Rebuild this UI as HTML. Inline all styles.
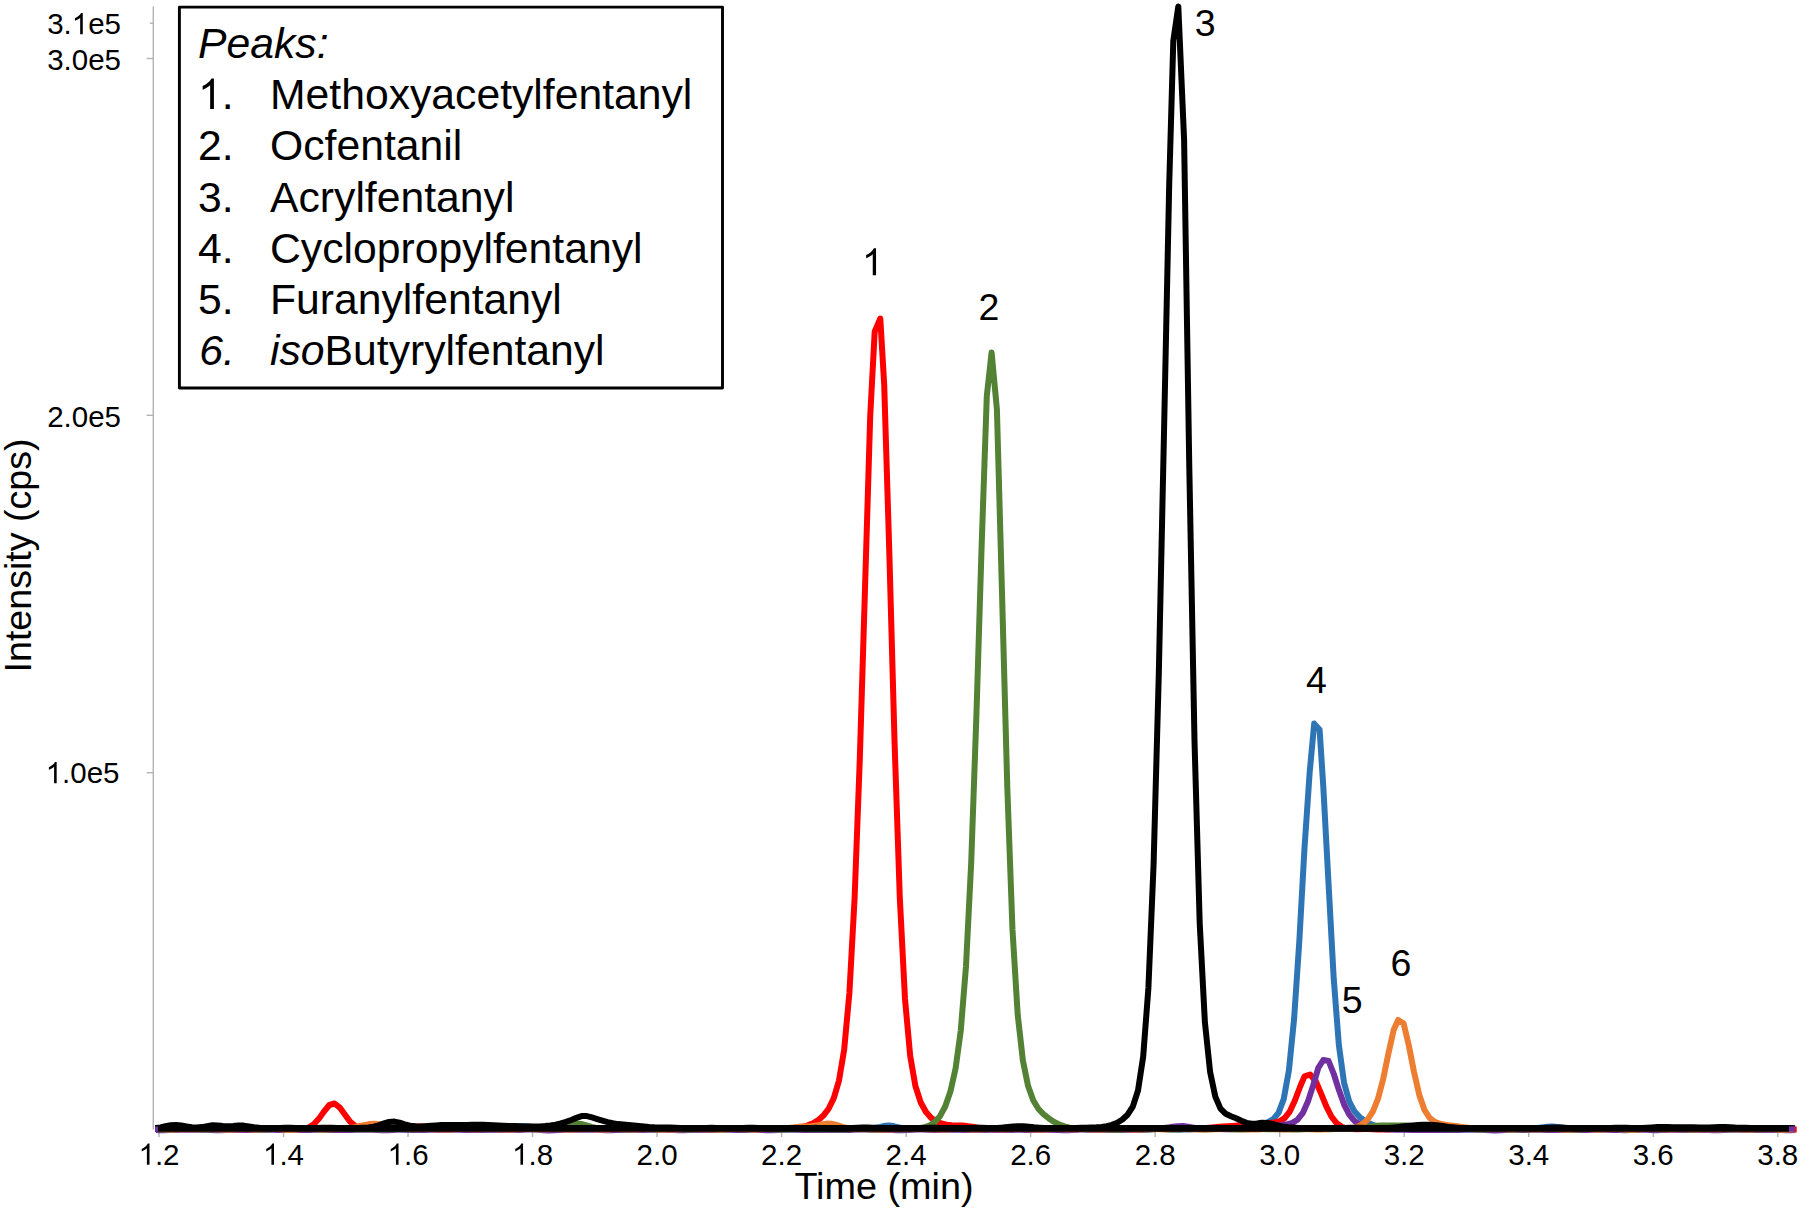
<!DOCTYPE html>
<html><head><meta charset="utf-8"><style>
html,body{margin:0;padding:0;background:#fff;overflow:hidden;}
svg{display:block;}
text{font-family:"Liberation Sans",sans-serif;fill:#000;}
</style></head><body>
<svg width="1800" height="1210" viewBox="0 0 1800 1210">
<rect width="1800" height="1210" fill="#fff"/>
<g stroke="#B3B3B3" stroke-width="1.4" fill="none">
<line x1="153.3" y1="6.5" x2="153.3" y2="1129.5"/>
<line x1="149.8" y1="23.25" x2="153.3" y2="23.25"/>
<line x1="146.6" y1="58.5" x2="153.3" y2="58.5"/>
<line x1="146.6" y1="415.3" x2="153.3" y2="415.3"/>
<line x1="146.6" y1="772.7" x2="153.3" y2="772.7"/>
<line x1="159.00" y1="1132" x2="159.00" y2="1137"/><line x1="283.52" y1="1132" x2="283.52" y2="1137"/><line x1="408.04" y1="1132" x2="408.04" y2="1137"/><line x1="532.56" y1="1132" x2="532.56" y2="1137"/><line x1="657.08" y1="1132" x2="657.08" y2="1137"/><line x1="781.60" y1="1132" x2="781.60" y2="1137"/><line x1="906.12" y1="1132" x2="906.12" y2="1137"/><line x1="1030.64" y1="1132" x2="1030.64" y2="1137"/><line x1="1155.16" y1="1132" x2="1155.16" y2="1137"/><line x1="1279.68" y1="1132" x2="1279.68" y2="1137"/><line x1="1404.20" y1="1132" x2="1404.20" y2="1137"/><line x1="1528.72" y1="1132" x2="1528.72" y2="1137"/><line x1="1653.24" y1="1132" x2="1653.24" y2="1137"/><line x1="1777.76" y1="1132" x2="1777.76" y2="1137"/>
</g>
<g><text x="47.18" y="34.2" font-size="29.5">3.</text><path d="M763 0L583 0L583 1147Q518 1085 412 1023Q306 961 222 930L222 1104Q373 1175 486 1276Q599 1377 646 1472L763 1472Z" transform="translate(71.78,34.2) scale(0.014404,-0.014404)"/><text x="88.19" y="34.2" font-size="29.5">e5</text><text x="47.18" y="69.5" font-size="29.5">3.0e5</text><text x="47.18" y="426.5" font-size="29.5">2.0e5</text><path d="M763 0L583 0L583 1147Q518 1085 412 1023Q306 961 222 930L222 1104Q373 1175 486 1276Q599 1377 646 1472L763 1472Z" transform="translate(45.68,783.2) scale(0.014404,-0.014404)"/><text x="62.08" y="783.2" font-size="29.5">.0e5</text></g>
<g><path d="M763 0L583 0L583 1147Q518 1085 412 1023Q306 961 222 930L222 1104Q373 1175 486 1276Q599 1377 646 1472L763 1472Z" transform="translate(138.50,1164.8) scale(0.014404,-0.014404)"/><text x="154.90" y="1164.8" font-size="29.5">.2</text><path d="M763 0L583 0L583 1147Q518 1085 412 1023Q306 961 222 930L222 1104Q373 1175 486 1276Q599 1377 646 1472L763 1472Z" transform="translate(263.02,1164.8) scale(0.014404,-0.014404)"/><text x="279.42" y="1164.8" font-size="29.5">.4</text><path d="M763 0L583 0L583 1147Q518 1085 412 1023Q306 961 222 930L222 1104Q373 1175 486 1276Q599 1377 646 1472L763 1472Z" transform="translate(387.54,1164.8) scale(0.014404,-0.014404)"/><text x="403.94" y="1164.8" font-size="29.5">.6</text><path d="M763 0L583 0L583 1147Q518 1085 412 1023Q306 961 222 930L222 1104Q373 1175 486 1276Q599 1377 646 1472L763 1472Z" transform="translate(512.06,1164.8) scale(0.014404,-0.014404)"/><text x="528.46" y="1164.8" font-size="29.5">.8</text><text x="636.58" y="1164.8" font-size="29.5">2.0</text><text x="761.10" y="1164.8" font-size="29.5">2.2</text><text x="885.62" y="1164.8" font-size="29.5">2.4</text><text x="1010.14" y="1164.8" font-size="29.5">2.6</text><text x="1134.66" y="1164.8" font-size="29.5">2.8</text><text x="1259.18" y="1164.8" font-size="29.5">3.0</text><text x="1383.70" y="1164.8" font-size="29.5">3.2</text><text x="1508.22" y="1164.8" font-size="29.5">3.4</text><text x="1632.74" y="1164.8" font-size="29.5">3.6</text><text x="1757.26" y="1164.8" font-size="29.5">3.8</text></g>
<text x="884" y="1198.7" font-size="37.8" text-anchor="middle">Time (min)</text>
<text transform="translate(31.2,555.5) rotate(-90)" font-size="37.6" text-anchor="middle">Intensity (cps)</text>
<g fill="none" stroke-width="6" stroke-linejoin="round" stroke-linecap="butt">
<path stroke="#2E75B6" d="M156.0,1129.0 L160.5,1129.1 L165.7,1129.3 L170.9,1129.3 L176.1,1129.3 L181.3,1129.3 L186.5,1129.4 L191.7,1129.4 L196.9,1129.5 L202.1,1129.4 L207.3,1129.2 L212.5,1129.0 L217.7,1128.9 L222.9,1128.9 L228.1,1129.0 L233.3,1129.0 L238.5,1129.0 L243.7,1129.2 L248.9,1129.4 L254.1,1129.5 L259.3,1129.6 L264.5,1129.5 L269.7,1129.3 L274.9,1129.2 L280.1,1129.2 L285.3,1129.1 L290.5,1129.1 L295.7,1129.0 L300.9,1128.9 L306.1,1128.9 L311.3,1129.1 L316.5,1129.2 L321.7,1129.3 L326.9,1129.3 L332.1,1129.4 L337.3,1129.5 L342.5,1129.6 L347.7,1129.5 L352.9,1129.3 L358.1,1129.1 L363.3,1128.9 L368.5,1128.8 L373.7,1128.9 L378.9,1128.9 L384.1,1129.0 L389.3,1129.1 L394.5,1129.3 L399.7,1129.5 L404.9,1129.7 L410.1,1129.6 L415.3,1129.4 L420.5,1129.3 L425.7,1129.1 L430.9,1129.1 L436.1,1129.0 L441.3,1128.9 L446.5,1128.9 L451.7,1128.9 L456.9,1129.0 L462.1,1129.2 L467.3,1129.3 L472.5,1129.4 L477.7,1129.4 L482.9,1129.4 L488.1,1129.5 L493.3,1129.5 L498.5,1129.2 L503.7,1128.7 L508.9,1127.9 L514.1,1127.0 L519.3,1126.2 L524.5,1126.0 L529.7,1126.5 L534.9,1127.5 L540.1,1128.5 L545.3,1129.1 L550.5,1129.5 L555.7,1129.5 L560.9,1129.4 L566.1,1129.2 L571.3,1129.0 L576.5,1129.0 L581.7,1129.1 L586.9,1129.1 L592.1,1129.1 L597.3,1129.1 L602.5,1129.1 L607.7,1129.2 L612.9,1129.3 L618.1,1129.3 L623.3,1129.2 L628.5,1129.2 L633.7,1129.2 L638.9,1129.3 L644.1,1129.3 L649.3,1129.2 L654.5,1129.1 L659.7,1129.0 L664.9,1129.1 L670.1,1129.2 L675.3,1129.2 L680.5,1129.2 L685.7,1129.2 L690.9,1129.2 L696.1,1129.3 L701.3,1129.3 L706.5,1129.3 L711.7,1129.2 L716.9,1129.1 L722.1,1129.1 L727.3,1129.2 L732.5,1129.3 L737.7,1129.3 L742.9,1129.2 L748.1,1129.1 L753.3,1129.1 L758.5,1129.1 L763.7,1129.1 L768.9,1129.1 L774.1,1129.1 L779.3,1129.1 L784.5,1129.3 L789.7,1129.4 L794.9,1129.4 L800.1,1129.3 L805.3,1129.2 L810.5,1129.1 L815.7,1129.1 L820.9,1129.2 L826.1,1129.2 L831.3,1129.1 L836.5,1129.1 L841.7,1129.1 L846.9,1129.2 L852.1,1129.3 L857.3,1129.2 L862.5,1129.1 L867.7,1128.8 L872.9,1128.3 L878.1,1127.3 L883.3,1126.1 L888.5,1125.5 L893.7,1126.1 L898.9,1127.3 L904.1,1128.4 L909.3,1128.9 L914.5,1129.1 L919.7,1129.1 L924.9,1129.1 L930.1,1129.2 L935.3,1129.3 L940.5,1129.4 L945.7,1129.3 L950.9,1129.2 L956.1,1129.1 L961.3,1129.2 L966.5,1129.3 L971.7,1129.3 L976.9,1129.3 L982.1,1129.2 L987.3,1129.1 L992.5,1129.1 L997.7,1129.2 L1002.9,1129.1 L1008.1,1129.0 L1013.3,1129.0 L1018.5,1129.1 L1023.7,1129.3 L1028.9,1129.5 L1034.1,1129.5 L1039.3,1129.4 L1044.5,1129.3 L1049.7,1129.2 L1054.9,1129.2 L1060.1,1129.1 L1065.3,1129.0 L1070.5,1128.9 L1075.7,1128.9 L1080.9,1129.1 L1086.1,1129.2 L1091.3,1129.4 L1096.5,1129.4 L1101.7,1129.3 L1106.9,1129.4 L1112.1,1129.4 L1117.3,1129.5 L1122.5,1129.4 L1127.7,1129.2 L1132.9,1129.0 L1138.1,1128.9 L1143.3,1128.9 L1148.5,1128.9 L1153.7,1129.0 L1158.9,1129.0 L1164.1,1129.1 L1169.3,1129.4 L1174.5,1129.6 L1179.7,1129.7 L1184.9,1129.6 L1190.1,1129.4 L1195.3,1129.1 L1200.5,1129.0 L1205.7,1128.8 L1210.9,1128.7 L1216.1,1128.5 L1221.3,1128.4 L1226.5,1128.3 L1231.7,1128.3 L1236.9,1128.1 L1242.1,1127.7 L1247.3,1127.0 L1252.5,1126.1 L1257.7,1125.2 L1262.9,1124.0 L1268.1,1122.2 L1273.3,1119.2 L1278.5,1112.9 L1283.7,1099.1 L1288.9,1070.5 L1294.1,1018.9 L1299.3,941.4 L1304.5,848.0 L1309.7,772.0 L1314.2,723.6 L1319.6,729.8 L1323.3,786.8 L1328.5,882.8 L1333.7,978.3 L1338.9,1045.4 L1344.1,1083.1 L1349.3,1101.8 L1354.5,1111.4 L1359.7,1117.1 L1364.9,1121.0 L1370.1,1123.8 L1375.3,1125.9 L1380.5,1127.4 L1385.7,1128.3 L1390.9,1128.9 L1396.1,1129.1 L1401.3,1129.1 L1406.5,1129.2 L1411.7,1129.3 L1416.9,1129.3 L1422.1,1129.2 L1427.3,1129.1 L1432.5,1128.9 L1437.7,1128.9 L1442.9,1129.0 L1448.1,1129.0 L1453.3,1129.1 L1458.5,1129.1 L1463.7,1129.2 L1468.9,1129.5 L1474.1,1129.6 L1479.3,1129.6 L1484.5,1129.4 L1489.7,1129.2 L1494.9,1129.1 L1500.1,1129.1 L1505.3,1129.0 L1510.5,1129.0 L1515.7,1128.9 L1520.9,1128.8 L1526.1,1128.8 L1531.3,1128.6 L1536.5,1128.2 L1541.7,1127.4 L1546.9,1126.8 L1552.1,1126.5 L1557.3,1126.9 L1562.5,1127.5 L1567.7,1128.2 L1572.9,1128.6 L1578.1,1128.7 L1583.3,1128.8 L1588.5,1128.9 L1593.7,1129.0 L1598.9,1129.0 L1604.1,1129.1 L1609.3,1129.2 L1614.5,1129.4 L1619.7,1129.6 L1624.9,1129.6 L1630.1,1129.5 L1635.3,1129.3 L1640.5,1129.1 L1645.7,1129.0 L1650.9,1129.0 L1656.1,1129.0 L1661.3,1129.0 L1666.5,1129.0 L1671.7,1129.1 L1676.9,1129.3 L1682.1,1129.4 L1687.3,1129.4 L1692.5,1129.4 L1697.7,1129.3 L1702.9,1129.3 L1708.1,1129.3 L1713.3,1129.3 L1718.5,1129.2 L1723.7,1129.0 L1728.9,1128.9 L1734.1,1129.0 L1739.3,1129.1 L1744.5,1129.2 L1749.7,1129.2 L1754.9,1129.2 L1760.1,1129.3 L1765.3,1129.4 L1770.5,1129.5 L1775.7,1129.4 L1780.9,1129.2 L1786.1,1129.0 L1791.3,1129.0 L1795.0,1129.0"/>
<path stroke="#FF0000" d="M156.0,1129.2 L157.8,1129.2 L163.0,1129.4 L168.2,1129.6 L173.4,1129.6 L178.6,1129.3 L183.8,1128.9 L189.0,1128.7 L194.2,1128.7 L199.4,1129.0 L204.6,1129.2 L209.8,1129.3 L215.0,1129.3 L220.2,1129.2 L225.4,1129.3 L230.6,1129.5 L235.8,1129.6 L241.0,1129.6 L246.2,1129.3 L251.4,1129.0 L256.6,1128.8 L261.8,1128.8 L267.0,1128.9 L272.2,1129.0 L277.4,1129.1 L282.6,1129.2 L287.8,1129.3 L293.0,1129.4 L298.2,1129.3 L303.4,1128.9 L308.6,1127.6 L313.8,1124.3 L319.0,1118.6 L324.2,1111.2 L329.4,1105.0 L334.6,1103.5 L339.8,1107.6 L345.0,1114.8 L350.2,1121.7 L355.4,1126.1 L360.6,1128.2 L365.8,1128.8 L371.0,1128.8 L376.2,1128.7 L381.4,1128.5 L386.6,1128.3 L391.8,1127.9 L397.0,1127.4 L402.2,1126.9 L407.4,1126.6 L412.6,1126.6 L417.8,1126.6 L423.0,1126.5 L428.2,1126.4 L433.4,1126.2 L438.6,1126.3 L443.8,1126.5 L449.0,1126.9 L454.2,1127.2 L459.4,1127.3 L464.6,1127.5 L469.8,1127.7 L475.0,1128.1 L480.2,1128.5 L485.4,1128.9 L490.6,1129.0 L495.8,1129.0 L501.0,1129.0 L506.2,1129.0 L511.4,1129.1 L516.6,1129.1 L521.8,1129.1 L527.0,1129.0 L532.2,1129.0 L537.4,1129.1 L542.6,1129.3 L547.8,1129.4 L553.0,1129.4 L558.2,1129.3 L563.4,1129.3 L568.6,1129.3 L573.8,1129.3 L579.0,1129.2 L584.2,1129.0 L589.4,1128.9 L594.6,1128.9 L599.8,1129.1 L605.0,1129.3 L610.2,1129.4 L615.4,1129.4 L620.6,1129.3 L625.8,1129.3 L631.0,1129.4 L636.2,1129.4 L641.4,1129.3 L646.6,1129.1 L651.8,1128.9 L657.0,1128.8 L662.2,1128.9 L667.4,1129.1 L672.6,1129.3 L677.8,1129.3 L683.0,1129.3 L688.2,1129.3 L693.4,1129.4 L698.6,1129.4 L703.8,1129.4 L709.0,1129.3 L714.2,1129.1 L719.4,1129.0 L724.6,1129.0 L729.8,1129.0 L735.0,1129.0 L740.2,1129.1 L745.4,1129.1 L750.6,1129.2 L755.8,1129.3 L761.0,1129.4 L766.2,1129.4 L771.4,1129.3 L776.6,1129.2 L781.8,1129.1 L787.0,1128.9 L792.2,1128.6 L797.4,1127.9 L802.6,1126.8 L807.8,1125.4 L813.0,1123.3 L818.2,1120.2 L823.4,1115.6 L828.6,1108.7 L833.8,1098.1 L839.0,1080.6 L844.2,1049.4 L849.4,993.0 L854.6,898.2 L859.8,758.9 L865.0,588.7 L870.2,416.3 L874.7,331.7 L880.3,318.5 L884.2,384.6 L889.4,555.3 L894.6,743.4 L899.8,897.6 L905.0,999.0 L910.2,1056.1 L915.4,1086.0 L920.6,1102.2 L925.8,1111.8 L931.0,1117.7 L936.2,1121.3 L941.4,1123.5 L946.6,1124.7 L951.8,1125.2 L957.0,1125.4 L962.2,1125.6 L967.4,1126.1 L972.6,1126.8 L977.8,1127.7 L983.0,1128.5 L988.2,1129.1 L993.4,1129.4 L998.6,1129.5 L1003.8,1129.4 L1009.0,1129.2 L1014.2,1129.0 L1019.4,1128.9 L1024.6,1128.8 L1029.8,1128.9 L1035.0,1129.0 L1040.2,1129.0 L1045.4,1129.1 L1050.6,1129.2 L1055.8,1129.4 L1061.0,1129.6 L1066.2,1129.8 L1071.4,1129.7 L1076.6,1129.4 L1081.8,1129.0 L1087.0,1128.8 L1092.2,1128.8 L1097.4,1128.9 L1102.6,1129.1 L1107.8,1129.0 L1113.0,1128.9 L1118.2,1129.0 L1123.4,1129.2 L1128.6,1129.5 L1133.8,1129.8 L1139.0,1129.7 L1144.2,1129.3 L1149.4,1128.9 L1154.6,1128.6 L1159.8,1128.6 L1165.0,1128.7 L1170.2,1128.7 L1175.4,1128.5 L1180.6,1128.3 L1185.8,1128.2 L1191.0,1128.2 L1196.2,1128.3 L1201.4,1128.3 L1206.6,1128.0 L1211.8,1127.5 L1217.0,1127.0 L1222.2,1126.5 L1227.4,1126.2 L1232.6,1125.9 L1237.8,1125.5 L1243.0,1125.0 L1248.2,1124.6 L1253.4,1124.2 L1258.6,1123.9 L1263.8,1123.6 L1269.0,1123.2 L1274.2,1122.6 L1279.4,1121.3 L1284.6,1118.2 L1289.8,1111.6 L1295.0,1100.3 L1300.2,1086.5 L1304.5,1076.4 L1310.1,1074.5 L1315.8,1081.3 L1321.0,1093.4 L1326.2,1106.2 L1331.4,1116.5 L1336.6,1123.2 L1341.8,1126.8 L1347.0,1128.5 L1352.2,1129.1 L1357.4,1129.2 L1362.6,1129.1 L1367.8,1129.0 L1373.0,1129.2 L1378.2,1129.4 L1383.4,1129.5 L1388.6,1129.4 L1393.8,1129.1 L1399.0,1129.0 L1404.2,1129.0 L1409.4,1129.1 L1414.6,1129.3 L1419.8,1129.3 L1425.0,1129.1 L1430.2,1129.1 L1435.4,1129.1 L1440.6,1129.3 L1445.8,1129.4 L1451.0,1129.4 L1456.2,1129.3 L1461.4,1129.1 L1466.6,1129.1 L1471.8,1129.1 L1477.0,1129.2 L1482.2,1129.2 L1487.4,1129.1 L1492.6,1129.1 L1497.8,1129.1 L1503.0,1129.2 L1508.2,1129.3 L1513.4,1129.3 L1518.6,1129.2 L1523.8,1129.2 L1529.0,1129.2 L1534.2,1129.3 L1539.4,1129.3 L1544.6,1129.2 L1549.8,1129.1 L1555.0,1129.0 L1560.2,1129.1 L1565.4,1129.3 L1570.6,1129.3 L1575.8,1129.2 L1581.0,1129.1 L1586.2,1129.0 L1591.4,1129.1 L1596.6,1129.3 L1601.8,1129.4 L1607.0,1129.3 L1612.2,1129.2 L1617.4,1129.1 L1622.6,1129.2 L1627.8,1129.3 L1633.0,1129.4 L1638.2,1129.3 L1643.4,1129.1 L1648.6,1129.0 L1653.8,1129.0 L1659.0,1129.1 L1664.2,1129.2 L1669.4,1129.3 L1674.6,1129.3 L1679.8,1129.3 L1685.0,1129.3 L1690.2,1129.4 L1695.4,1129.4 L1700.6,1129.3 L1705.8,1129.2 L1711.0,1129.1 L1716.2,1129.0 L1721.4,1129.0 L1726.6,1128.9 L1731.8,1128.9 L1737.0,1129.0 L1742.2,1129.2 L1747.4,1129.4 L1752.6,1129.6 L1757.8,1129.6 L1763.0,1129.5 L1768.2,1129.3 L1773.4,1129.2 L1778.6,1129.2 L1783.8,1129.1 L1789.0,1129.0 L1794.2,1128.8 L1795.0,1128.7"/>
<path stroke="#7030A0" d="M156.0,1130.1 L158.7,1130.2 L163.9,1130.2 L169.1,1130.1 L174.3,1129.9 L179.5,1129.8 L184.7,1129.7 L189.9,1129.7 L195.1,1129.7 L200.3,1129.7 L205.5,1129.8 L210.7,1130.0 L215.9,1130.2 L221.1,1130.3 L226.3,1130.1 L231.5,1129.8 L236.7,1129.6 L241.9,1129.7 L247.1,1130.0 L252.3,1130.1 L257.5,1130.0 L262.7,1129.7 L267.9,1129.6 L273.1,1129.7 L278.3,1130.0 L283.5,1130.1 L288.7,1130.1 L293.9,1130.0 L299.1,1129.9 L304.3,1129.9 L309.5,1129.9 L314.7,1129.8 L319.9,1129.8 L325.1,1129.9 L330.3,1129.9 L335.5,1130.0 L340.7,1130.0 L345.9,1129.9 L351.1,1129.9 L356.3,1129.8 L361.5,1129.7 L366.7,1129.7 L371.9,1129.8 L377.1,1130.1 L382.3,1130.3 L387.5,1130.3 L392.7,1129.9 L397.9,1129.6 L403.1,1129.5 L408.3,1129.8 L413.5,1130.0 L418.7,1130.1 L423.9,1129.9 L429.1,1129.8 L434.3,1129.8 L439.5,1129.9 L444.7,1130.0 L449.9,1129.9 L455.1,1129.8 L460.3,1129.8 L465.5,1129.9 L470.7,1130.0 L475.9,1130.0 L481.1,1129.9 L486.3,1129.8 L491.5,1129.8 L496.7,1129.8 L501.9,1129.9 L507.1,1130.0 L512.3,1130.0 L517.5,1130.0 L522.7,1129.8 L527.9,1129.6 L533.1,1129.6 L538.3,1129.8 L543.5,1130.2 L548.7,1130.4 L553.9,1130.2 L559.1,1129.9 L564.3,1129.7 L569.5,1129.7 L574.7,1129.8 L579.9,1129.8 L585.1,1129.7 L590.3,1129.7 L595.5,1129.8 L600.7,1130.1 L605.9,1130.2 L611.1,1130.2 L616.3,1130.0 L621.5,1129.8 L626.7,1129.8 L631.9,1129.9 L637.1,1129.9 L642.3,1129.9 L647.5,1129.8 L652.7,1129.7 L657.9,1129.7 L663.1,1129.7 L668.3,1129.9 L673.5,1130.1 L678.7,1130.3 L683.9,1130.3 L689.1,1130.0 L694.3,1129.7 L699.5,1129.6 L704.7,1129.8 L709.9,1130.0 L715.1,1130.0 L720.3,1129.8 L725.5,1129.7 L730.7,1129.8 L735.9,1130.0 L741.1,1130.0 L746.3,1129.9 L751.5,1129.8 L756.7,1129.8 L761.9,1130.1 L767.1,1130.3 L772.3,1130.2 L777.5,1130.0 L782.7,1129.7 L787.9,1129.5 L793.1,1129.6 L798.3,1129.7 L803.5,1129.9 L808.7,1130.0 L813.9,1130.1 L819.1,1130.0 L824.3,1129.9 L829.5,1129.9 L834.7,1130.0 L839.9,1130.1 L845.1,1130.1 L850.3,1129.9 L855.5,1129.6 L860.7,1129.5 L865.9,1129.6 L871.1,1129.8 L876.3,1129.9 L881.5,1129.9 L886.7,1129.9 L891.9,1130.1 L897.1,1130.3 L902.3,1130.3 L907.5,1130.1 L912.7,1129.7 L917.9,1129.5 L923.1,1129.6 L928.3,1129.8 L933.5,1130.0 L938.7,1130.0 L943.9,1129.9 L949.1,1129.8 L954.3,1129.8 L959.5,1129.8 L964.7,1129.9 L969.9,1130.0 L975.1,1130.1 L980.3,1130.1 L985.5,1129.9 L990.7,1129.8 L995.9,1129.7 L1001.1,1129.8 L1006.3,1129.9 L1011.5,1129.9 L1016.7,1129.8 L1021.9,1129.8 L1027.1,1129.9 L1032.3,1130.1 L1037.5,1130.1 L1042.7,1129.9 L1047.9,1129.7 L1053.1,1129.8 L1058.3,1130.0 L1063.5,1130.2 L1068.7,1130.2 L1073.9,1129.8 L1079.1,1129.5 L1084.3,1129.5 L1089.5,1129.7 L1094.7,1129.9 L1099.9,1130.1 L1105.1,1130.1 L1110.3,1130.1 L1115.5,1130.0 L1120.7,1129.9 L1125.9,1129.8 L1131.1,1129.8 L1136.3,1129.8 L1141.5,1129.7 L1146.7,1129.6 L1151.9,1129.2 L1157.1,1128.8 L1162.3,1128.2 L1167.5,1127.6 L1172.7,1126.8 L1177.9,1126.2 L1183.1,1126.1 L1188.3,1126.7 L1193.5,1127.6 L1198.7,1128.4 L1203.9,1128.7 L1209.1,1128.8 L1214.3,1128.9 L1219.5,1129.1 L1224.7,1129.3 L1229.9,1129.2 L1235.1,1128.9 L1240.3,1128.3 L1245.5,1127.8 L1250.7,1127.5 L1255.9,1127.2 L1261.1,1126.8 L1266.3,1126.4 L1271.5,1126.1 L1276.7,1125.7 L1281.9,1125.1 L1287.1,1124.3 L1292.3,1122.9 L1297.5,1119.7 L1302.7,1113.2 L1307.9,1101.6 L1313.1,1085.6 L1318.3,1067.8 L1323.3,1060.0 L1328.6,1061.0 L1333.8,1074.0 L1339.0,1090.3 L1344.2,1104.8 L1349.4,1114.9 L1354.6,1121.0 L1359.8,1124.4 L1365.0,1126.3 L1370.2,1127.3 L1375.4,1127.9 L1380.6,1128.5 L1385.8,1129.2 L1391.0,1129.6 L1396.2,1129.7 L1401.4,1129.7 L1406.6,1129.8 L1411.8,1129.9 L1417.0,1130.0 L1422.2,1130.0 L1427.4,1129.9 L1432.6,1129.9 L1437.8,1130.0 L1443.0,1130.0 L1448.2,1130.0 L1453.4,1130.0 L1458.6,1129.9 L1463.8,1129.8 L1469.0,1129.6 L1474.2,1129.5 L1479.4,1129.6 L1484.6,1129.9 L1489.8,1130.3 L1495.0,1130.5 L1500.2,1130.3 L1505.4,1129.9 L1510.6,1129.7 L1515.8,1129.7 L1521.0,1129.9 L1526.2,1129.9 L1531.4,1129.8 L1536.6,1129.6 L1541.8,1129.7 L1547.0,1129.9 L1552.2,1130.1 L1557.4,1130.1 L1562.6,1130.0 L1567.8,1130.0 L1573.0,1130.0 L1578.2,1130.1 L1583.4,1130.0 L1588.6,1129.9 L1593.8,1129.7 L1599.0,1129.6 L1604.2,1129.6 L1609.4,1129.7 L1614.6,1129.9 L1619.8,1130.1 L1625.0,1130.2 L1630.2,1130.1 L1635.4,1129.9 L1640.6,1129.7 L1645.8,1129.7 L1651.0,1130.0 L1656.2,1130.2 L1661.4,1130.1 L1666.6,1129.9 L1671.8,1129.6 L1677.0,1129.7 L1682.2,1129.8 L1687.4,1129.9 L1692.6,1129.8 L1697.8,1129.8 L1703.0,1129.9 L1708.2,1130.1 L1713.4,1130.3 L1718.6,1130.2 L1723.8,1129.9 L1729.0,1129.7 L1734.2,1129.7 L1739.4,1129.8 L1744.6,1129.9 L1749.8,1129.9 L1755.0,1129.9 L1760.2,1129.8 L1765.4,1129.8 L1770.6,1129.8 L1775.8,1129.9 L1781.0,1130.1 L1786.2,1130.3 L1791.4,1130.2 L1795.0,1130.1"/>
<path stroke="#548235" d="M156.0,1129.1 L160.0,1129.2 L165.2,1129.4 L170.4,1129.5 L175.6,1129.3 L180.8,1128.9 L186.0,1128.8 L191.2,1129.0 L196.4,1129.3 L201.6,1129.5 L206.8,1129.4 L212.0,1129.2 L217.2,1129.2 L222.4,1129.2 L227.6,1129.3 L232.8,1129.2 L238.0,1129.0 L243.2,1128.9 L248.4,1129.0 L253.6,1129.3 L258.8,1129.5 L264.0,1129.5 L269.2,1129.3 L274.4,1129.1 L279.6,1129.1 L284.8,1129.2 L290.0,1129.2 L295.2,1129.2 L300.4,1129.1 L305.6,1129.0 L310.8,1129.1 L316.0,1129.3 L321.2,1129.5 L326.4,1129.4 L331.6,1129.2 L336.8,1129.0 L342.0,1129.0 L347.2,1129.1 L352.4,1129.2 L357.6,1129.3 L362.8,1129.2 L368.0,1129.2 L373.2,1129.2 L378.4,1129.3 L383.6,1129.3 L388.8,1129.3 L394.0,1129.1 L399.2,1129.0 L404.4,1129.1 L409.6,1129.2 L414.8,1129.3 L420.0,1129.2 L425.2,1128.9 L430.4,1128.5 L435.6,1128.4 L440.8,1128.3 L446.0,1128.1 L451.2,1127.5 L456.4,1126.8 L461.6,1126.2 L466.8,1126.0 L472.0,1126.1 L477.2,1126.5 L482.4,1126.8 L487.6,1127.1 L492.8,1127.6 L498.0,1128.2 L503.2,1128.8 L508.4,1129.0 L513.6,1128.8 L518.8,1128.6 L524.0,1128.7 L529.2,1129.0 L534.4,1129.3 L539.6,1129.3 L544.8,1128.8 L550.0,1127.8 L555.2,1126.8 L560.4,1125.8 L565.6,1124.8 L570.8,1123.9 L576.0,1123.6 L581.2,1124.0 L586.4,1125.3 L591.6,1126.8 L596.8,1128.1 L602.0,1128.7 L607.2,1128.8 L612.4,1128.8 L617.6,1129.1 L622.8,1129.3 L628.0,1129.4 L633.2,1129.2 L638.4,1128.9 L643.6,1128.9 L648.8,1129.1 L654.0,1129.5 L659.2,1129.5 L664.4,1129.3 L669.6,1129.0 L674.8,1129.0 L680.0,1129.2 L685.2,1129.4 L690.4,1129.4 L695.6,1129.2 L700.8,1129.0 L706.0,1129.0 L711.2,1129.2 L716.4,1129.4 L721.6,1129.4 L726.8,1129.2 L732.0,1129.1 L737.2,1129.1 L742.4,1129.3 L747.6,1129.3 L752.8,1129.2 L758.0,1129.0 L763.2,1128.9 L768.4,1129.1 L773.6,1129.4 L778.8,1129.6 L784.0,1129.5 L789.2,1129.2 L794.4,1129.0 L799.6,1128.9 L804.8,1129.0 L810.0,1129.2 L815.2,1129.2 L820.4,1129.2 L825.6,1129.2 L830.8,1129.3 L836.0,1129.4 L841.2,1129.4 L846.4,1129.2 L851.6,1129.0 L856.8,1128.9 L862.0,1129.0 L867.2,1129.3 L872.4,1129.4 L877.6,1129.4 L882.8,1129.2 L888.0,1129.0 L893.2,1129.1 L898.4,1129.3 L903.6,1129.3 L908.8,1129.2 L914.0,1128.7 L919.2,1128.1 L924.4,1127.2 L929.6,1125.5 L934.8,1122.1 L940.0,1116.2 L945.2,1106.5 L950.4,1091.6 L955.6,1068.4 L960.8,1030.3 L966.0,966.2 L971.2,862.6 L976.4,715.7 L981.6,546.9 L986.8,396.0 L991.6,352.5 L996.9,409.3 L1002.1,596.4 L1007.3,787.5 L1012.5,929.9 L1017.7,1014.6 L1022.9,1060.7 L1028.1,1086.1 L1033.3,1100.5 L1038.5,1109.0 L1043.7,1114.4 L1048.9,1118.4 L1054.1,1121.9 L1059.3,1124.5 L1064.5,1126.4 L1069.7,1127.7 L1074.9,1128.5 L1080.1,1129.1 L1085.3,1129.2 L1090.5,1129.1 L1095.7,1128.8 L1100.9,1128.9 L1106.1,1129.2 L1111.3,1129.6 L1116.5,1129.7 L1121.7,1129.4 L1126.9,1129.0 L1132.1,1128.8 L1137.3,1129.0 L1142.5,1129.3 L1147.7,1129.4 L1152.9,1129.2 L1158.1,1129.1 L1163.3,1129.1 L1168.5,1129.3 L1173.7,1129.4 L1178.9,1129.3 L1184.1,1129.1 L1189.3,1129.0 L1194.5,1129.1 L1199.7,1129.3 L1204.9,1129.4 L1210.1,1129.3 L1215.3,1129.0 L1220.5,1128.9 L1225.7,1129.1 L1230.9,1129.3 L1236.1,1129.5 L1241.3,1129.4 L1246.5,1129.2 L1251.7,1129.0 L1256.9,1129.0 L1262.1,1129.1 L1267.3,1129.2 L1272.5,1129.2 L1277.7,1129.1 L1282.9,1129.2 L1288.1,1129.3 L1293.3,1129.4 L1298.5,1129.4 L1303.7,1129.2 L1308.9,1129.0 L1314.1,1128.9 L1319.3,1129.0 L1324.5,1129.1 L1329.7,1129.2 L1334.9,1129.1 L1340.1,1128.9 L1345.3,1128.6 L1350.5,1128.4 L1355.7,1128.2 L1360.9,1127.8 L1366.1,1127.1 L1371.3,1126.4 L1376.5,1125.8 L1381.7,1125.6 L1386.9,1125.5 L1392.1,1125.5 L1397.3,1125.4 L1402.5,1125.4 L1407.7,1125.6 L1412.9,1126.0 L1418.1,1126.6 L1423.3,1127.1 L1428.5,1127.5 L1433.7,1127.8 L1438.9,1128.2 L1444.1,1128.7 L1449.3,1129.1 L1454.5,1129.2 L1459.7,1129.1 L1464.9,1128.9 L1470.1,1128.9 L1475.3,1129.2 L1480.5,1129.4 L1485.7,1129.4 L1490.9,1129.1 L1496.1,1128.9 L1501.3,1129.0 L1506.5,1129.2 L1511.7,1129.4 L1516.9,1129.4 L1522.1,1129.2 L1527.3,1129.1 L1532.5,1129.2 L1537.7,1129.3 L1542.9,1129.3 L1548.1,1129.1 L1553.3,1128.8 L1558.5,1128.9 L1563.7,1129.2 L1568.9,1129.6 L1574.1,1129.6 L1579.3,1129.4 L1584.5,1129.0 L1589.7,1128.9 L1594.9,1129.0 L1600.1,1129.2 L1605.3,1129.2 L1610.5,1129.1 L1615.7,1129.1 L1620.9,1129.2 L1626.1,1129.4 L1631.3,1129.5 L1636.5,1129.3 L1641.7,1129.1 L1646.9,1128.9 L1652.1,1129.0 L1657.3,1129.2 L1662.5,1129.3 L1667.7,1129.2 L1672.9,1129.1 L1678.1,1129.1 L1683.3,1129.3 L1688.5,1129.4 L1693.7,1129.4 L1698.9,1129.2 L1704.1,1129.0 L1709.3,1129.0 L1714.5,1129.1 L1719.7,1129.2 L1724.9,1129.3 L1730.1,1129.3 L1735.3,1129.2 L1740.5,1129.2 L1745.7,1129.2 L1750.9,1129.3 L1756.1,1129.3 L1761.3,1129.2 L1766.5,1129.1 L1771.7,1129.1 L1776.9,1129.2 L1782.1,1129.2 L1787.3,1129.2 L1792.5,1129.2 L1795.0,1129.2"/>
<path stroke="#ED7D31" d="M156.0,1128.8 L156.1,1128.8 L161.3,1129.0 L166.5,1129.2 L171.7,1129.4 L176.9,1129.3 L182.1,1129.2 L187.3,1129.2 L192.5,1129.2 L197.7,1129.2 L202.9,1129.1 L208.1,1129.1 L213.3,1129.1 L218.5,1129.3 L223.7,1129.4 L228.9,1129.4 L234.1,1129.2 L239.3,1129.1 L244.5,1129.1 L249.7,1129.3 L254.9,1129.4 L260.1,1129.3 L265.3,1129.0 L270.5,1128.8 L275.7,1128.8 L280.9,1129.3 L286.1,1129.7 L291.3,1129.8 L296.5,1129.5 L301.7,1129.0 L306.9,1128.7 L312.1,1128.8 L317.3,1129.1 L322.5,1129.4 L327.7,1129.3 L332.9,1129.0 L338.1,1128.7 L343.3,1128.4 L348.5,1128.1 L353.7,1127.4 L358.9,1126.3 L364.1,1125.1 L369.3,1124.1 L374.5,1123.8 L379.7,1124.3 L384.9,1125.3 L390.1,1126.4 L395.3,1127.4 L400.5,1128.1 L405.7,1128.7 L410.9,1129.0 L416.1,1129.1 L421.3,1129.0 L426.5,1128.9 L431.7,1129.0 L436.9,1129.3 L442.1,1129.5 L447.3,1129.6 L452.5,1129.4 L457.7,1129.1 L462.9,1129.0 L468.1,1129.0 L473.3,1129.2 L478.5,1129.2 L483.7,1129.1 L488.9,1129.0 L494.1,1129.0 L499.3,1129.2 L504.5,1129.5 L509.7,1129.6 L514.9,1129.4 L520.1,1129.1 L525.3,1129.0 L530.5,1129.0 L535.7,1129.2 L540.9,1129.2 L546.1,1129.2 L551.3,1129.1 L556.5,1129.1 L561.7,1129.3 L566.9,1129.5 L572.1,1129.4 L577.3,1129.2 L582.5,1128.9 L587.7,1128.9 L592.9,1129.1 L598.1,1129.5 L603.3,1129.6 L608.5,1129.4 L613.7,1129.1 L618.9,1128.9 L624.1,1129.0 L629.3,1129.2 L634.5,1129.4 L639.7,1129.3 L644.9,1129.0 L650.1,1128.9 L655.3,1129.0 L660.5,1129.4 L665.7,1129.6 L670.9,1129.6 L676.1,1129.4 L681.3,1129.1 L686.5,1129.0 L691.7,1129.0 L696.9,1129.0 L702.1,1129.1 L707.3,1129.2 L712.5,1129.3 L717.7,1129.4 L722.9,1129.4 L728.1,1129.3 L733.3,1129.1 L738.5,1129.0 L743.7,1129.1 L748.9,1129.3 L754.1,1129.4 L759.3,1129.3 L764.5,1129.0 L769.7,1128.6 L774.9,1128.5 L780.1,1128.5 L785.3,1128.3 L790.5,1127.8 L795.7,1127.2 L800.9,1126.6 L806.1,1126.4 L811.3,1126.2 L816.5,1125.6 L821.7,1124.5 L826.9,1123.6 L832.1,1123.8 L837.3,1125.2 L842.5,1126.9 L847.7,1128.2 L852.9,1129.0 L858.1,1129.2 L863.3,1129.1 L868.5,1129.1 L873.7,1129.2 L878.9,1129.4 L884.1,1129.5 L889.3,1129.4 L894.5,1129.2 L899.7,1129.1 L904.9,1129.1 L910.1,1129.1 L915.3,1129.1 L920.5,1129.1 L925.7,1129.1 L930.9,1129.2 L936.1,1129.3 L941.3,1129.5 L946.5,1129.4 L951.7,1129.1 L956.9,1128.9 L962.1,1128.9 L967.3,1129.2 L972.5,1129.4 L977.7,1129.5 L982.9,1129.3 L988.1,1129.1 L993.3,1129.0 L998.5,1129.1 L1003.7,1129.2 L1008.9,1129.2 L1014.1,1129.1 L1019.3,1129.0 L1024.5,1129.0 L1029.7,1129.3 L1034.9,1129.5 L1040.1,1129.5 L1045.3,1129.4 L1050.5,1129.1 L1055.7,1129.1 L1060.9,1129.1 L1066.1,1129.2 L1071.3,1129.2 L1076.5,1129.0 L1081.7,1128.9 L1086.9,1129.0 L1092.1,1129.4 L1097.3,1129.6 L1102.5,1129.6 L1107.7,1129.3 L1112.9,1128.9 L1118.1,1128.8 L1123.3,1129.0 L1128.5,1129.3 L1133.7,1129.5 L1138.9,1129.4 L1144.1,1129.1 L1149.3,1129.0 L1154.5,1129.0 L1159.7,1129.2 L1164.9,1129.4 L1170.1,1129.3 L1175.3,1129.1 L1180.5,1129.0 L1185.7,1129.1 L1190.9,1129.2 L1196.1,1129.4 L1201.3,1129.4 L1206.5,1129.4 L1211.7,1129.3 L1216.9,1129.2 L1222.1,1129.1 L1227.3,1128.9 L1232.5,1128.9 L1237.7,1128.9 L1242.9,1129.2 L1248.1,1129.5 L1253.3,1129.6 L1258.5,1129.5 L1263.7,1129.1 L1268.9,1128.9 L1274.1,1129.0 L1279.3,1129.2 L1284.5,1129.4 L1289.7,1129.3 L1294.9,1129.0 L1300.1,1128.8 L1305.3,1128.9 L1310.5,1129.3 L1315.7,1129.6 L1320.9,1129.6 L1326.1,1129.3 L1331.3,1128.9 L1336.5,1128.7 L1341.7,1128.7 L1346.9,1128.8 L1352.1,1128.3 L1357.3,1126.8 L1362.5,1124.1 L1367.7,1119.4 L1372.9,1111.5 L1378.1,1098.4 L1383.3,1078.4 L1388.5,1053.2 L1393.7,1029.8 L1398.2,1019.9 L1403.6,1023.4 L1408.8,1045.4 L1414.0,1071.9 L1419.2,1094.7 L1424.4,1109.8 L1429.6,1117.9 L1434.8,1121.8 L1440.0,1123.7 L1445.2,1124.7 L1450.4,1125.4 L1455.6,1126.0 L1460.8,1126.8 L1466.0,1127.6 L1471.2,1128.2 L1476.4,1128.6 L1481.6,1128.6 L1486.8,1128.6 L1492.0,1128.6 L1497.2,1128.8 L1502.4,1129.1 L1507.6,1129.2 L1512.8,1129.2 L1518.0,1129.1 L1523.2,1129.1 L1528.4,1129.2 L1533.6,1129.3 L1538.8,1129.3 L1544.0,1129.1 L1549.2,1129.0 L1554.4,1129.0 L1559.6,1129.3 L1564.8,1129.5 L1570.0,1129.4 L1575.2,1129.3 L1580.4,1129.1 L1585.6,1129.1 L1590.8,1129.2 L1596.0,1129.4 L1601.2,1129.3 L1606.4,1129.0 L1611.6,1128.8 L1616.8,1128.9 L1622.0,1129.2 L1627.2,1129.6 L1632.4,1129.7 L1637.6,1129.5 L1642.8,1129.1 L1648.0,1128.9 L1653.2,1128.9 L1658.4,1129.1 L1663.6,1129.3 L1668.8,1129.3 L1674.0,1129.2 L1679.2,1129.1 L1684.4,1129.1 L1689.6,1129.3 L1694.8,1129.3 L1700.0,1129.3 L1705.2,1129.2 L1710.4,1129.2 L1715.6,1129.2 L1720.8,1129.2 L1726.0,1129.1 L1731.2,1129.1 L1736.4,1129.2 L1741.6,1129.3 L1746.8,1129.4 L1752.0,1129.4 L1757.2,1129.1 L1762.4,1128.8 L1767.6,1128.8 L1772.8,1129.0 L1778.0,1129.4 L1783.2,1129.7 L1788.4,1129.6 L1793.6,1129.3 L1795.0,1129.2"/>
<rect x="155" y="1125" width="1634" height="6.8" fill="#000" stroke="none"/>
<path stroke="#000000" d="M156.0,1128.0 L160.4,1127.4 L165.6,1126.3 L170.8,1125.3 L176.0,1124.9 L181.2,1125.4 L186.4,1126.4 L191.6,1127.3 L196.8,1127.6 L202.0,1127.1 L207.2,1126.1 L212.4,1125.3 L217.6,1125.4 L222.8,1126.0 L228.0,1126.3 L233.2,1126.0 L238.4,1125.5 L243.6,1125.6 L248.8,1126.4 L254.0,1127.2 L259.2,1127.8 L264.4,1128.1 L269.6,1128.2 L274.8,1128.1 L280.0,1127.9 L285.2,1127.7 L290.4,1127.8 L295.6,1128.0 L300.8,1128.2 L306.0,1128.3 L311.2,1128.3 L316.4,1128.0 L321.6,1127.8 L326.8,1127.7 L332.0,1127.7 L337.2,1127.9 L342.4,1128.0 L347.6,1128.1 L352.8,1128.1 L358.0,1127.9 L363.2,1127.7 L368.4,1127.4 L373.6,1126.6 L378.8,1125.3 L384.0,1123.4 L389.2,1121.9 L394.4,1121.6 L399.6,1122.6 L404.8,1124.3 L410.0,1125.6 L415.2,1126.3 L420.4,1126.5 L425.6,1126.2 L430.8,1125.8 L436.0,1125.4 L441.2,1125.1 L446.4,1125.0 L451.6,1125.0 L456.8,1125.1 L462.0,1125.1 L467.2,1125.0 L472.4,1124.8 L477.6,1124.7 L482.8,1124.7 L488.0,1124.9 L493.2,1125.2 L498.4,1125.5 L503.6,1125.7 L508.8,1125.9 L514.0,1126.0 L519.2,1126.2 L524.4,1126.4 L529.6,1126.5 L534.8,1126.6 L540.0,1126.4 L545.2,1126.0 L550.4,1125.4 L555.6,1124.6 L560.8,1123.4 L566.0,1121.9 L571.2,1120.0 L576.4,1117.9 L581.6,1116.1 L586.8,1116.1 L592.0,1117.4 L597.2,1119.1 L602.4,1120.7 L607.6,1122.2 L612.8,1123.3 L618.0,1124.1 L623.2,1124.6 L628.4,1125.0 L633.6,1125.5 L638.8,1126.0 L644.0,1126.5 L649.2,1127.0 L654.4,1127.3 L659.6,1127.4 L664.8,1127.5 L670.0,1127.6 L675.2,1127.8 L680.4,1128.0 L685.6,1128.2 L690.8,1128.3 L696.0,1128.2 L701.2,1128.0 L706.4,1127.9 L711.6,1127.8 L716.8,1127.9 L722.0,1128.0 L727.2,1128.1 L732.4,1128.1 L737.6,1128.0 L742.8,1127.9 L748.0,1127.8 L753.2,1127.8 L758.4,1128.0 L763.6,1128.1 L768.8,1128.2 L774.0,1128.2 L779.2,1128.1 L784.4,1128.0 L789.6,1127.9 L794.8,1127.9 L800.0,1127.9 L805.2,1127.9 L810.4,1127.9 L815.6,1127.8 L820.8,1127.9 L826.0,1128.0 L831.2,1128.2 L836.4,1128.3 L841.6,1128.4 L846.8,1128.3 L852.0,1128.0 L857.2,1127.8 L862.4,1127.6 L867.6,1127.6 L872.8,1127.7 L878.0,1128.0 L883.2,1128.2 L888.4,1128.3 L893.6,1128.3 L898.8,1128.2 L904.0,1128.0 L909.2,1128.0 L914.4,1127.9 L919.6,1127.9 L924.8,1127.9 L930.0,1127.8 L935.2,1127.8 L940.4,1127.9 L945.6,1128.0 L950.8,1128.2 L956.0,1128.2 L961.2,1128.2 L966.4,1128.1 L971.6,1127.9 L976.8,1127.8 L982.0,1127.8 L987.2,1127.9 L992.4,1128.0 L997.6,1127.9 L1002.8,1127.6 L1008.0,1127.1 L1013.2,1126.5 L1018.4,1126.2 L1023.6,1126.3 L1028.8,1126.7 L1034.0,1127.3 L1039.2,1127.7 L1044.4,1128.0 L1049.6,1128.0 L1054.8,1128.0 L1060.0,1127.9 L1065.2,1127.9 L1070.4,1127.9 L1075.6,1127.9 L1080.8,1127.8 L1086.0,1127.7 L1091.2,1127.5 L1096.4,1127.3 L1101.6,1126.9 L1106.8,1126.1 L1112.0,1124.8 L1117.2,1122.7 L1122.4,1119.5 L1127.6,1114.7 L1132.8,1106.6 L1138.0,1090.5 L1143.2,1056.5 L1148.4,987.9 L1153.6,864.1 L1158.8,673.8 L1164.0,432.8 L1169.2,185.0 L1173.3,40.9 L1178.3,6.5 L1184.1,139.8 L1189.3,467.5 L1194.5,740.6 L1199.7,923.1 L1204.9,1022.3 L1210.1,1071.8 L1215.3,1096.6 L1220.5,1108.6 L1225.7,1113.8 L1230.9,1116.2 L1236.1,1118.3 L1241.3,1120.8 L1246.5,1122.9 L1251.7,1123.8 L1256.9,1123.5 L1262.1,1122.8 L1267.3,1122.9 L1272.5,1124.0 L1277.7,1125.5 L1282.9,1126.6 L1288.1,1127.2 L1293.3,1127.6 L1298.5,1127.9 L1303.7,1128.1 L1308.9,1128.2 L1314.1,1128.3 L1319.3,1128.2 L1324.5,1128.1 L1329.7,1128.0 L1334.9,1128.0 L1340.1,1127.9 L1345.3,1127.9 L1350.5,1127.8 L1355.7,1127.8 L1360.9,1127.8 L1366.1,1127.9 L1371.3,1128.1 L1376.5,1128.3 L1381.7,1128.3 L1386.9,1128.1 L1392.1,1127.7 L1397.3,1127.2 L1402.5,1126.6 L1407.7,1126.0 L1412.9,1125.4 L1418.1,1124.9 L1423.3,1124.7 L1428.5,1124.7 L1433.7,1125.0 L1438.9,1125.6 L1444.1,1126.3 L1449.3,1127.1 L1454.5,1127.6 L1459.7,1128.0 L1464.9,1128.1 L1470.1,1128.0 L1475.3,1127.9 L1480.5,1127.9 L1485.7,1127.9 L1490.9,1127.9 L1496.1,1128.0 L1501.3,1128.0 L1506.5,1127.9 L1511.7,1127.9 L1516.9,1128.0 L1522.1,1128.1 L1527.3,1128.3 L1532.5,1128.3 L1537.7,1128.2 L1542.9,1128.0 L1548.1,1127.7 L1553.3,1127.5 L1558.5,1127.6 L1563.7,1127.8 L1568.9,1128.1 L1574.1,1128.3 L1579.3,1128.4 L1584.5,1128.3 L1589.7,1128.2 L1594.9,1128.0 L1600.1,1127.9 L1605.3,1127.9 L1610.5,1127.9 L1615.7,1127.8 L1620.9,1127.8 L1626.1,1127.8 L1631.3,1127.9 L1636.5,1127.9 L1641.7,1127.9 L1646.9,1127.7 L1652.1,1127.4 L1657.3,1127.1 L1662.5,1127.0 L1667.7,1127.1 L1672.9,1127.2 L1678.1,1127.3 L1683.3,1127.2 L1688.5,1127.2 L1693.7,1127.2 L1698.9,1127.4 L1704.1,1127.4 L1709.3,1127.4 L1714.5,1127.2 L1719.7,1127.1 L1724.9,1127.1 L1730.1,1127.3 L1735.3,1127.6 L1740.5,1127.7 L1745.7,1127.8 L1750.9,1127.9 L1756.1,1127.9 L1761.3,1128.0 L1766.5,1128.0 L1771.7,1128.0 L1776.9,1127.9 L1782.1,1127.9 L1787.3,1128.0 L1792.5,1128.1 L1795.0,1128.2"/>
<rect x="155" y="1126.4" width="3" height="5.4" fill="#7030A0" stroke="none"/>
<rect x="1789" y="1126.3" width="6" height="5.4" fill="#7030A0" stroke="none"/>
<rect x="1795" y="1126.5" width="1.7" height="6" fill="#FF0000" stroke="none"/>
</g>
<g font-size="37.5" text-anchor="middle">
</g><path d="M763 0L583 0L583 1147Q518 1085 412 1023Q306 961 222 930L222 1104Q373 1175 486 1276Q599 1377 646 1472L763 1472Z" transform="translate(862.07,275.3) scale(0.018311,-0.018311)"/><g font-size="37.5" text-anchor="middle">
<text x="989" y="320">2</text>
<text x="1205.3" y="35.8">3</text>
<text x="1316.5" y="693.2">4</text>
<text x="1352.3" y="1013.3">5</text>
<text x="1401" y="976.2">6</text>
</g>
<rect x="179.4" y="7.1" width="543.1" height="380.9" fill="#fff" stroke="#000" stroke-width="2.9" stroke-linejoin="round"/>
<g font-size="42.7">
<text x="198" y="57.9" font-style="italic">Peaks:</text>
</g><path d="M763 0L583 0L583 1147Q518 1085 412 1023Q306 961 222 930L222 1104Q373 1175 486 1276Q599 1377 646 1472L763 1472Z" transform="translate(198.00,109.1) scale(0.020850,-0.020850)"/><text x="221.75" y="109.1" font-size="42.7">.</text><g font-size="42.7"><text x="270" y="109.1">Methoxyacetylfentanyl</text>
<text x="198" y="160.3">2.</text><text x="270" y="160.3">Ocfentanil</text>
<text x="198" y="211.5">3.</text><text x="270" y="211.5">Acrylfentanyl</text>
<text x="198" y="262.7">4.</text><text x="270" y="262.7">Cyclopropylfentanyl</text>
<text x="198" y="313.9">5.</text><text x="270" y="313.9">Furanylfentanyl</text>
<text x="199.3" y="365.1" font-style="italic">6.</text><text x="270" y="365.1"><tspan font-style="italic">iso</tspan>Butyrylfentanyl</text>
</g>
</svg>
</body></html>
